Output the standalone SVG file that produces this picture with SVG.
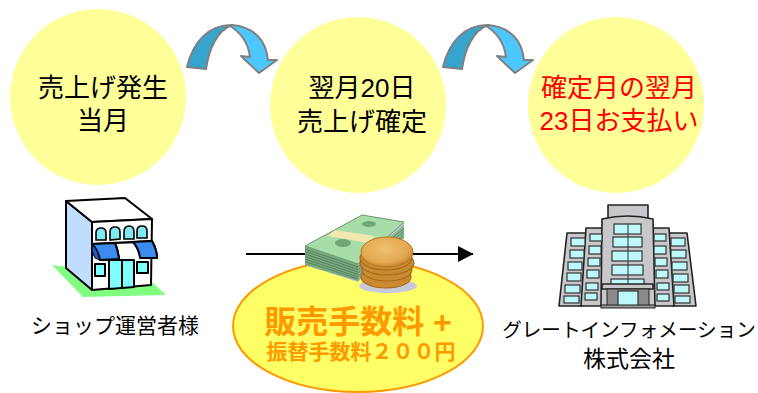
<svg xmlns="http://www.w3.org/2000/svg" width="758" height="393" viewBox="0 0 758 393">
<style>
text{font-family:"Liberation Sans","Noto Sans CJK JP",sans-serif;text-anchor:middle}
.c{fill:#ffff99}
.t{font-size:26px;fill:#000}
.r{fill:#ff0000}
.l{font-size:21px;fill:#000}
.o{fill:#ff9900;font-weight:bold}
.k{stroke:#000;stroke-width:2;stroke-linejoin:round}
.win{fill:#bff8fb;stroke:#333;stroke-width:1.2}
.wall{fill:#c8c8cc;stroke:#222;stroke-width:1.6;stroke-linejoin:round}
.coin{fill:#c98a30;stroke:#a8691e;stroke-width:1.2}
</style>
<defs>
<marker id="ah" markerWidth="16" markerHeight="16" refX="15" refY="8" orient="auto" markerUnits="userSpaceOnUse"><path d="M0 0L15.500 8L0 16Z" fill="#000"/></marker>
<radialGradient id="gold" cx=".45" cy=".4" r=".65"><stop offset="0" stop-color="#f0c070"/><stop offset=".7" stop-color="#e2a850"/><stop offset="1" stop-color="#bb7a24"/></radialGradient>
<g id="curve">
<path d="M232 25C254 27 266 40 268 60L277 60L259 73L241 56L250 57C248 42 240 32 230 26Z" fill="#4dc8ff" stroke="#808080" stroke-width="2" stroke-linejoin="round"/>
<path d="M187 67C193 42 208 25 232 25C218 30 209 48 206 69Z" fill="#36a4cc" stroke="#808080" stroke-width="2" stroke-linejoin="round"/>
</g>
</defs>
<rect width="758" height="393" fill="#fff"/>
<g id="connectors">
<use href="#curve"/>
<use href="#curve" x="256"/>
<line x1="246" y1="254" x2="473" y2="254" stroke="#000" stroke-width="2" marker-end="url(#ah)"/>
</g>
<g id="step1"><circle class="c" cx="98" cy="97" r="88"/><text class="t" x="103" y="97">売上げ発生</text><text class="t" x="103" y="130">当月</text></g>
<g id="step2"><circle class="c" cx="358" cy="105" r="88"/><text class="t" x="362" y="97">翌月20日</text><text class="t" x="362" y="131">売上げ確定</text></g>
<g id="step3"><circle class="c" cx="616" cy="105" r="88"/><text class="t r" x="619" y="97">確定月の翌月</text><text class="t r" x="619" y="130">23日お支払い</text></g>
<g id="shop">
<path d="M52 265L83 297L166 295L153 283L92 270Z" fill="#80ff80"/>
<path class="k" d="M66 201L92 222V290L66 268Z" fill="#c0dcff"/>
<path class="k" d="M66 201L125 198L152 219L92 222Z" fill="#fff"/>
<path class="k" d="M92 222L152 219L151 285L92 290Z" fill="#fff"/>
<g fill="#80e8f0" stroke="#000" stroke-width="1.600">
<path d="M96 240V233Q96 228 101 228T106 233V240Z"/>
<path d="M110 240V232Q110 227 115 227T120 232V239Z"/>
<path d="M124 239V232Q124 226 129 226T134 232V239Z"/>
<path d="M137 238V231Q137 226 142 226T147 231V238Z"/>
</g>
<path class="k" d="M92 244L152 241Q157 250 157 258L145 257Q144 248 141 242L115 243Q118 250 119 259L100 260Q98 250 92 244Z" fill="#fff"/>
<path class="k" d="M92 244L115 243Q118 250 119 259L100 260Q98 250 92 244Z" fill="#3c8cf0"/>
<path class="k" d="M133 242L152 241Q157 250 157 258L140 258Q139 249 133 242Z" fill="#3c8cf0"/>
<path d="M92 244Q98 250 100 260L95 258Q91 252 92 244Z" fill="#1e5cc0" stroke="#000"/>
<rect class="k" x="95" y="264" width="10" height="12" fill="#80ffff" stroke-width="1.500"/>
<rect class="k" x="137" y="262" width="11" height="11" fill="#80ffff" stroke-width="1.500"/>
<path class="k" d="M109 260H134V287L109 289Z" fill="#80ffff"/>
<line class="k" x1="122" y1="260" x2="122" y2="288"/>
</g>
<g id="shop-label"><text class="l" x="115" y="333">ショップ運営者様</text></g>
<g id="fee">
<ellipse cx="358" cy="326" rx="125" ry="66" fill="#ffff66" stroke="#ff9900" stroke-width="2"/>
<text class="o" x="358" y="333" font-size="32">販売手数料 +</text>
<text class="o" x="361" y="359" font-size="21">振替手数料２００円</text>
</g>
<g id="money">
<path d="M305 246L362 215L404 222V236L358 282L305 265Z" fill="#c0c0d8"/>
<path d="M305 246L358 264V281L305 265Z" fill="#7aa880"/>
<path d="M358 264L404 225V238L358 281Z" fill="#8ab890"/>
<path d="M305 246L362 215L404 222L358 264Z" fill="#a8dca8" stroke="#6a9a70" stroke-width="1"/>
<path d="M335 230L375 236L368 243L328 236Z" fill="#f0e8b0"/>
<g stroke="#4c7c50" stroke-width=".8">
<path d="M305 249L358 267M305 251.500L358 269.500M305 254L358 272M305 256.500L358 274.500M305 259L358 277M305 261.500L358 279"/>
<path d="M358 267L404 228M358 270L404 231M358 273L404 234M358 276L404 237"/>
</g>
<ellipse cx="343" cy="243" rx="8" ry="4" fill="#6fa878"/>
<ellipse cx="369" cy="224" rx="7" ry="3" fill="#6fa878"/>
<ellipse cx="388" cy="286" rx="29" ry="7" fill="#c8c8d8"/>
<ellipse class="coin" cx="386" cy="277" rx="25" ry="11"/>
<ellipse class="coin" cx="387" cy="270" rx="25" ry="11"/>
<ellipse class="coin" cx="387" cy="263" rx="27" ry="12"/>
<ellipse class="coin" cx="386" cy="258" rx="26" ry="12"/>
<ellipse cx="387" cy="252" rx="26" ry="15" fill="url(#gold)" stroke="#b87820" stroke-width="1"/>
</g>
<g id="building">
<path class="wall" d="M567 233H587L582 306H559Z"/>
<path class="wall" d="M669 233H687L696 306H673Z"/>
<path class="wall" d="M586 228H605V306H581Z"/>
<path class="wall" d="M652 228H669L674 306H652Z"/>
<path class="wall" d="M608 205H648V220H608Z" fill="#b0b0b4"/>
<path class="wall" d="M602 219Q628 213 653 219L655 306H601Z"/>
<rect class="win" x="571" y="238" width="14" height="8"/><rect class="win" x="570" y="250" width="14" height="8"/><rect class="win" x="568" y="262" width="14" height="8"/><rect class="win" x="567" y="273" width="14" height="8"/><rect class="win" x="565" y="285" width="15" height="8"/><rect class="win" x="564" y="296" width="15" height="7"/>
<rect class="win" x="590" y="234" width="12" height="7"/><rect class="win" x="589" y="246" width="12" height="8"/><rect class="win" x="588" y="258" width="12" height="8"/><rect class="win" x="587" y="270" width="12" height="8"/><rect class="win" x="586" y="283" width="12" height="7"/><rect class="win" x="585" y="293" width="12" height="7"/>
<rect class="win" x="654" y="234" width="12" height="7"/><rect class="win" x="654" y="246" width="12" height="8"/><rect class="win" x="655" y="258" width="12" height="8"/><rect class="win" x="656" y="270" width="12" height="8"/><rect class="win" x="657" y="283" width="12" height="7"/><rect class="win" x="657" y="294" width="12" height="7"/>
<rect class="win" x="671" y="238" width="14" height="8"/><rect class="win" x="671" y="250" width="15" height="8"/><rect class="win" x="672" y="262" width="15" height="8"/><rect class="win" x="673" y="274" width="15" height="8"/><rect class="win" x="674" y="285" width="15" height="8"/><rect class="win" x="675" y="296" width="15" height="7"/>
<rect class="win" x="614" y="224" width="27" height="10"/><rect class="win" x="613" y="237" width="29" height="10"/><rect class="win" x="612" y="251" width="30" height="10"/><rect class="win" x="612" y="265" width="31" height="10"/><rect class="win" x="611" y="279" width="33" height="6"/>
<line x1="628" y1="224" x2="628" y2="285" stroke="#333"/>
<path class="wall" d="M602 284H653V289H602Z" fill="#a8a8a8"/>
<rect x="607" y="289" width="42" height="17" fill="#8a8a8a" stroke="#222"/>
<rect class="win" x="618" y="291" width="20" height="15"/>
<rect x="601" y="305" width="54" height="3" fill="#999" stroke="#222"/>
</g>
<g id="company-label"><text class="l" x="629" y="337" style="font-size:19.6px">グレートインフォメーション</text><text class="l" x="629" y="367" style="font-size:23px">株式会社</text></g>
</svg>
